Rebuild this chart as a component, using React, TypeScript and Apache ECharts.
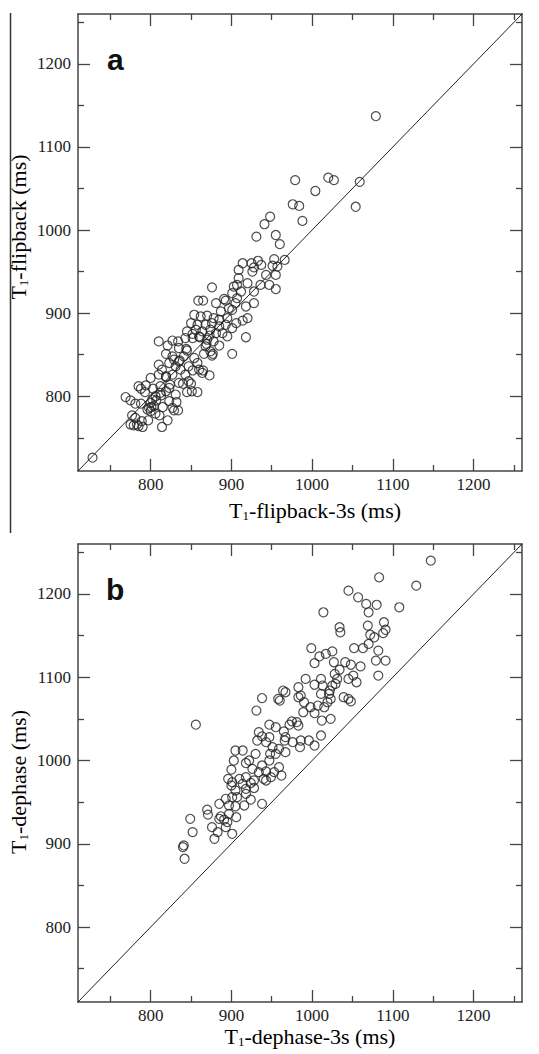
import React, { useEffect, useRef } from "react";
import * as echarts from "echarts";

const AXIS_MIN = 710;
const AXIS_MAX = 1260;
const majorTicks = [800, 900, 1000, 1100, 1200];
const minorTicks = [750, 850, 950, 1050, 1150, 1250];

const panelLetters = ["a", "b"];
const xTitles = ["-flipback-3s (ms)", "-dephase-3s (ms)"];
const yTitles = ["-flipback (ms)", "-dephase (ms)"];

// Panel a: T1-flipback-3s (x) vs T1-flipback (y)
const pointsA: number[][] = [
  [1079, 1137], [979, 1060], [1020, 1063], [1027, 1060], [1004, 1047], [1059, 1058], [1054, 1028],
  [976, 1031], [984, 1029], [988, 1011], [948, 1016], [941, 1007], [931, 992], [955, 994], [960, 983],
  [966, 964], [953, 965], [951, 957], [957, 956], [925, 960], [914, 960], [933, 963], [937, 958], [928, 955],
  [909, 952], [926, 950], [943, 946], [955, 946], [947, 934], [936, 934], [955, 929], [909, 942], [920, 936],
  [907, 934], [912, 926], [928, 926], [928, 912], [918, 908], [903, 932], [901, 924], [876, 931], [891, 917],
  [893, 915], [881, 912], [905, 912], [907, 918], [901, 904], [897, 906], [859, 915], [865, 915], [887, 902],
  [920, 894], [914, 891], [906, 888], [901, 882], [918, 871], [901, 851], [854, 898], [862, 896], [870, 897],
  [878, 894], [885, 892], [895, 894], [850, 888], [858, 886], [868, 886], [876, 888], [885, 884], [893, 886],
  [845, 878], [856, 880], [864, 878], [874, 880], [881, 876], [889, 876], [895, 872], [843, 870], [852, 870],
  [860, 872], [870, 868], [878, 866], [885, 861], [868, 860], [874, 854], [876, 849], [866, 851], [810, 866],
  [827, 867], [821, 861], [835, 858], [845, 855], [819, 851], [827, 848], [841, 848], [854, 846], [858, 840],
  [864, 828], [860, 832], [847, 836], [835, 842], [829, 844], [823, 840], [810, 838], [814, 832], [831, 836],
  [837, 832], [843, 826], [827, 826], [819, 824], [810, 826], [800, 822], [812, 812], [824, 814], [835, 816],
  [847, 818], [845, 805], [851, 806], [831, 802], [823, 810], [819, 806], [812, 804], [806, 800], [802, 796],
  [800, 792], [798, 786], [804, 788], [806, 779], [800, 782], [796, 784], [823, 794], [827, 786], [829, 783],
  [821, 771], [814, 763], [785, 812], [794, 813], [788, 809], [769, 799], [775, 795], [781, 791], [788, 791],
  [777, 777], [781, 774], [775, 766], [779, 765], [783, 766], [789, 770], [785, 764], [728, 726],
  [834, 866], [844, 857], [869, 863], [852, 875], [861, 871], [873, 873], [877, 851], [836, 843], [852, 831],
  [865, 831], [873, 825], [819, 823], [840, 815], [850, 815], [858, 805], [803, 809], [793, 805], [801, 787],
  [807, 795], [813, 801], [815, 787], [811, 777], [832, 793], [834, 783], [797, 771], [790, 763],
];

// Panel b: T1-dephase-3s (x) vs T1-dephase (y)
const pointsB: number[][] = [
  [1147, 1240], [1083, 1220], [1129, 1210], [1045, 1204], [1057, 1196], [1067, 1188], [1080, 1187],
  [1108, 1184], [1070, 1178], [1014, 1178], [1089, 1166], [1091, 1157], [1069, 1162], [1034, 1160],
  [1035, 1154], [1088, 1153], [1072, 1151], [1077, 1148], [1070, 1140], [1082, 1132], [1063, 1135],
  [1052, 1135], [999, 1135], [1025, 1131], [1017, 1128], [1009, 1125], [1003, 1117], [1027, 1118],
  [1041, 1118], [1048, 1115], [1060, 1113], [1079, 1120], [1091, 1120], [1082, 1102], [1034, 1109],
  [1028, 1104], [1051, 1102], [1045, 1098], [1055, 1094], [1031, 1098], [1029, 1092], [1025, 1090],
  [1022, 1084], [1011, 1098], [992, 1098], [1003, 1091], [1013, 1090], [1021, 1080], [983, 1088],
  [986, 1078], [983, 1076], [990, 1070], [1011, 1080], [1039, 1076], [1048, 1071], [1045, 1074],
  [1023, 1074], [1019, 1070], [1015, 1064], [1007, 1066], [998, 1064], [989, 1058], [1003, 1057],
  [1012, 1048], [1023, 1050], [1011, 1030], [1003, 1018], [996, 1024], [986, 1024], [985, 1016],
  [981, 1046], [975, 1047], [972, 1043], [983, 1042], [967, 1082], [964, 1084], [958, 1074], [960, 1072],
  [938, 1075], [931, 1060], [856, 1043], [947, 1043], [955, 1040], [965, 1035], [967, 1028], [966, 1024],
  [976, 1022], [967, 1010], [959, 1014], [951, 1016], [947, 1028], [938, 1029], [934, 1034], [932, 1024],
  [943, 1022], [955, 1008], [948, 1008], [947, 1000], [938, 994], [930, 1008], [922, 1000], [918, 997],
  [914, 1012], [905, 1012], [903, 1000], [926, 990], [934, 986], [943, 987], [953, 986], [959, 992],
  [962, 982], [900, 989], [896, 978], [901, 974], [910, 978], [918, 980], [928, 976], [940, 978], [949, 980],
  [900, 970], [914, 972], [924, 973], [943, 976], [905, 964], [918, 966], [928, 967], [918, 960], [901, 956],
  [893, 954], [885, 948], [907, 956], [924, 953], [916, 946], [905, 945], [897, 946], [938, 948], [870, 941],
  [871, 935], [887, 933], [891, 929], [895, 926], [885, 930], [897, 936], [906, 932], [876, 920], [893, 920],
  [883, 914], [901, 912], [879, 906], [849, 930], [852, 914], [840, 896], [841, 898], [842, 882],
];

const panels = [pointsA, pointsB];

const AXIS_COLOR = "#444";
const SERIF = "Liberation Serif";

function makeAxes(dim: "x" | "y", gridIndex: number) {
  const base = {
    type: "value",
    gridIndex,
    min: AXIS_MIN,
    max: AXIS_MAX,
    splitLine: { show: false },
    axisLine: { show: false, onZero: false, lineStyle: { color: AXIS_COLOR, width: 1.5 } },
    axisLabel: { show: false },
    axisTick: { show: false },
  };
  const near = dim === "x" ? "bottom" : "left";
  const far = dim === "x" ? "top" : "right";
  const tick = (values: number[], length: number) => ({
    show: true,
    inside: true,
    length,
    customValues: values,
    lineStyle: { color: AXIS_COLOR, width: 1.3 },
  });
  return [
    {
      ...base,
      position: near,
      axisLine: { ...base.axisLine, show: true },
      axisTick: tick(majorTicks, 12),
      axisLabel: {
        show: true,
        customValues: majorTicks,
        formatter: (v: number) => "{n|" + String(v) + "}",
        rich: { n: { fontFamily: SERIF, fontSize: 17, color: "#222" } },
        fontFamily: SERIF,
        fontSize: 17,
        color: "#222",
        margin: dim === "x" ? 5 : 7,
      },
    },
    { ...base, position: near, axisTick: tick(minorTicks, 6) },
    { ...base, position: far, axisLine: { ...base.axisLine, show: true }, axisTick: tick(majorTicks, 12) },
    { ...base, position: far, axisTick: tick(minorTicks, 6) },
  ];
}

function titleText(rest: string, x: number, y: number, rotation = 0) {
  return {
    type: "text",
    x,
    y,
    rotation,
    silent: true,
    style: {
      text: "{t|T}{s|1}{t|" + rest + "}",
      align: "center",
      verticalAlign: "middle",
      rich: {
        t: { fontFamily: SERIF, fontSize: 22, color: "#222", lineHeight: 24 },
        s: { fontFamily: SERIF, fontSize: 13, color: "#222", lineHeight: 24, verticalAlign: "bottom" },
      },
    },
  };
}

export default function App() {
  const ref = useRef<HTMLDivElement>(null);
  useEffect(() => {
    if (!ref.current) return;
    const chart = echarts.init(ref.current, undefined, { renderer: "svg" });
    const grids = [
      { left: 78, top: 14, width: 444, height: 457 },
      { left: 78, top: 544, width: 444, height: 458 },
    ];
    const xAxis: any[] = [];
    const yAxis: any[] = [];
    const series: any[] = [];
    grids.forEach((_, gi) => {
      const xBase = xAxis.length;
      const yBase = yAxis.length;
      xAxis.push(...makeAxes("x", gi));
      yAxis.push(...makeAxes("y", gi));
      series.push({
        type: "line",
        xAxisIndex: xBase,
        yAxisIndex: yBase,
        data: [
          [AXIS_MIN, AXIS_MIN],
          [AXIS_MAX, AXIS_MAX],
        ],
        symbol: "none",
        silent: true,
        lineStyle: { color: "#222", width: 1 },
      });
      series.push({
        type: "scatter",
        xAxisIndex: xBase,
        yAxisIndex: yBase,
        data: panels[gi],
        symbol: "circle",
        symbolSize: 9,
        silent: true,
        itemStyle: { color: "rgba(0,0,0,0)", borderColor: "#222", borderWidth: 1.2 },
      });
    });
    const graphic: any[] = [
      {
        type: "line",
        silent: true,
        shape: { x1: 10.5, y1: 13, x2: 10.5, y2: 533 },
        style: { stroke: "#333", lineWidth: 1.5 },
      },
      titleText(xTitles[0], 315, 510),
      titleText(xTitles[1], 310, 1036),
      titleText(yTitles[0], 18, 227, Math.PI / 2),
      titleText(yTitles[1], 18, 782, Math.PI / 2),
      {
        type: "text",
        x: 107,
        y: 44,
        silent: true,
        style: { text: panelLetters[0], font: 'bold 30px "Liberation Sans"', fill: "#111", align: "left", verticalAlign: "top" },
      },
      {
        type: "text",
        x: 106,
        y: 574,
        silent: true,
        style: { text: panelLetters[1], font: 'bold 30px "Liberation Sans"', fill: "#111", align: "left", verticalAlign: "top" },
      },
    ];
    chart.setOption({
      animation: false,
      backgroundColor: "#fff",
      textStyle: { fontFamily: SERIF },
      grid: grids,
      xAxis,
      yAxis,
      series,
      graphic,
    });
    return () => chart.dispose();
  }, []);
  return (
    <div
      ref={ref}
      style={{ position: "absolute", left: 0, top: 0, width: 539, height: 1054, background: "#fff" }}
    />
  );
}
